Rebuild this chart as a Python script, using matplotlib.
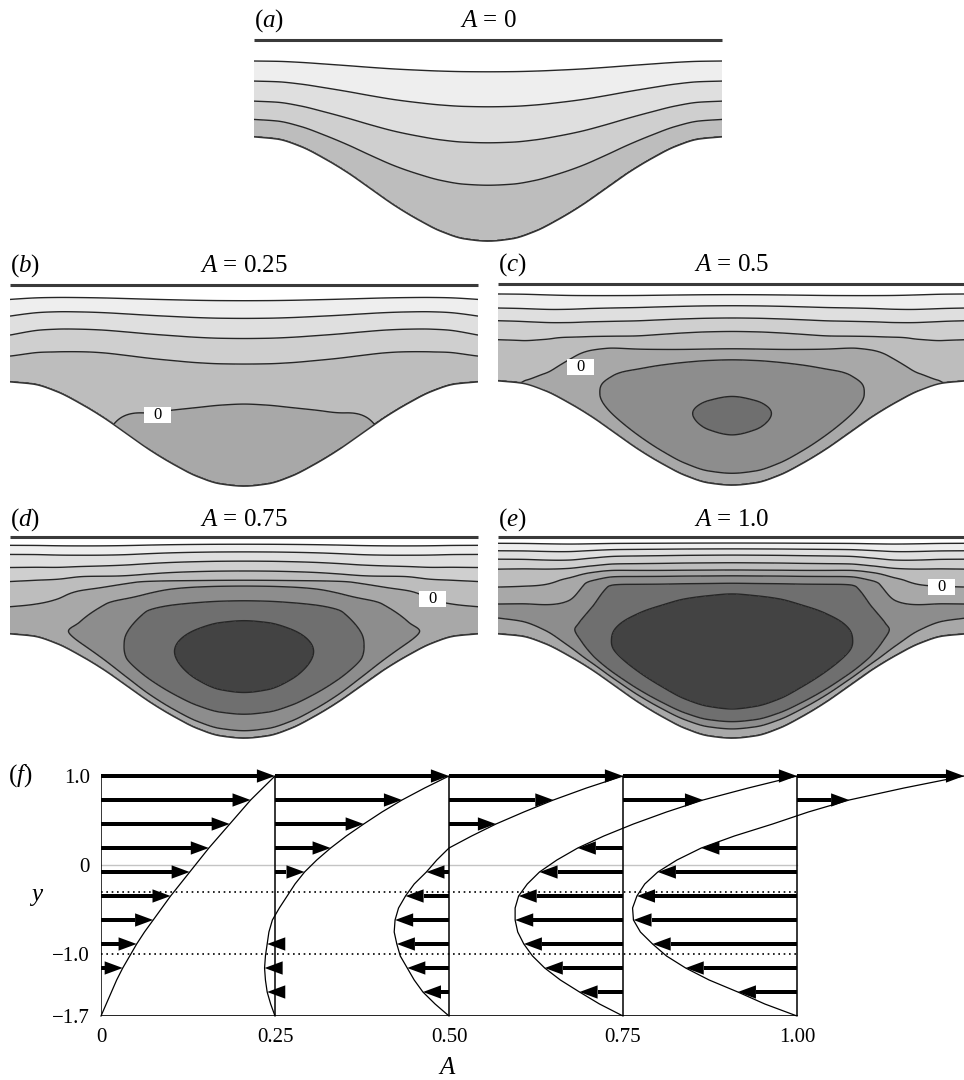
import numpy as np
import matplotlib
matplotlib.use("Agg")
import matplotlib.pyplot as plt
from matplotlib.patches import Rectangle, Polygon

plt.rcParams['font.family'] = ['Liberation Serif', 'DejaVu Serif']
plt.rcParams['mathtext.fontset'] = 'custom'
plt.rcParams['mathtext.rm'] = 'Liberation Serif'
plt.rcParams['mathtext.it'] = 'Liberation Serif:italic'

W, H = 964.0, 1080.0

# lower wall of the channel; xi = x / pi
xi_half = [0.0, 0.1, 0.2, 0.3, 0.4, 0.5, 0.6, 0.7, 0.8, 0.9, 1.0]
bottom_half = [-1.70, -1.67, -1.57, -1.41, -1.22, -1.00, -0.78, -0.59, -0.43, -0.33, -0.30]
top_wall = 1.0

# streamline heights (fraction of local depth) at the channel end and at the centre
pos_levels = [1, 2, 3, 4]

edge_eta_a = [0, 0.180, 0.369, 0.576, 0.783, 1.0]
edge_psi_a = [0, 1, 2, 3, 4, 5]
cen_eta_a = [0, 0.278, 0.489, 0.668, 0.842, 1.0]
cen_psi_a = [0, 1, 2, 3, 4, 5]
w_a = [1, 0.976, 0.905, 0.794, 0.655, 0.5, 0.345, 0.206, 0.095, 0.024, 0]
neg_a = []

edge_eta_b = [0, 0.266, 0.483, 0.679, 0.851, 1.0]
edge_psi_b = [0, 1, 2, 3, 4, 5]
cen_eta_b = [0, 0.20, 0.408, 0.607, 0.734, 0.834, 0.922, 1.0]
cen_psi_b = [0, -0.2, 0, 1, 2, 3, 4, 5]
w_b = [1, 0.988, 0.951, 0.891, 0.809, 0.707, 0.588, 0.454, 0.309, 0.156, 0]
neg_b = []

edge_eta_c = [0, 0.425, 0.621, 0.752, 0.897, 1.0]
edge_psi_c = [0, 1, 2, 3, 4, 5]
cen_eta_c = [0, 0.059, 0.25, 0.345, 0.441, 0.623, 0.678, 0.764, 0.831, 0.892, 0.947, 1.0]
cen_psi_c = [0, -1, -2, -2.12, -2, -1, 0, 1, 2, 3, 4, 5]
w_c = [1, 0.985, 0.940, 0.867, 0.769, 0.660, 0.50, 0.28, 0.09, 0.006, 0]
neg_c = [-1, -2]

edge_eta_d = [0, 0.14, 0.280, 0.540, 0.685, 0.820, 0.914, 1.0]
edge_psi_d = [0, -0.5, 0, 1, 2, 3, 4, 5]
cen_eta_d = [0, 0.037, 0.119, 0.227, 0.40, 0.584, 0.683, 0.756, 0.785, 0.831, 0.880, 0.926, 0.964, 1.0]
cen_psi_d = [0, -1, -2, -3, -3.4, -3, -2, -1, 0, 1, 2, 3, 4, 5]
w_d = [1, 0.99, 0.955, 0.89, 0.78, 0.62, 0.46, 0.30, 0.13, 0.04, 0]
neg_d = [-1, -2, -3]

edge_eta_e = [0, 0.164, 0.236, 0.308, 0.483, 0.668, 0.771, 0.858, 0.935, 1.0]
edge_psi_e = [0, -1, -1.25, -1, 0, 1, 2, 3, 4, 5]
cen_eta_e = [0, 0.046, 0.082, 0.145, 0.43, 0.717, 0.770, 0.807, 0.836, 0.872, 0.910, 0.941, 0.970, 1.0]
cen_psi_e = [0, -1, -2, -3, -3.6, -3, -2, -1, 0, 1, 2, 3, 4, 5]
w_e = [1, 0.99, 0.97, 0.93, 0.88, 0.80, 0.56, 0.26, 0.10, 0.03, 0]
neg_e = [-1, -2, -3]

# how strongly the centre profile keeps its distance from the lid (0 = plain depth fraction)
lid_keep = [0, 0, 1, 1, 1]

titles = ['0', '0.25', '0.5', '0.75', '1.0']
letters = ['a', 'b', 'c', 'd', 'e']
label0_x = [None, -1.168, -2.033, 2.533, 2.815]
label0_y = [None, -0.743, -0.113, 0.168, 0.329]

pos_colors = ['#bdbdbd', '#cfcfcf', '#dfdfdf', '#eeeeee', '#ffffff']
neg_colors = ['#a8a8a8', '#8d8d8d', '#6f6f6f', '#434343']

# panel (f): velocity profiles, eta = (y + 1.7) / 2.7
A_vals = [0.0, 0.25, 0.5, 0.75, 1.0]
eta_f = [0.0, 0.05, 0.1, 0.15, 0.2, 0.25, 0.3, 0.35, 0.4, 0.45, 0.5,
         0.55, 0.6, 0.65, 0.7, 0.75, 0.8, 0.85, 0.9, 0.95, 1.0]
u_A0 = [0, 0.03, 0.06, 0.09, 0.125, 0.165, 0.205, 0.25, 0.30, 0.35, 0.40,
        0.455, 0.51, 0.565, 0.62, 0.68, 0.74, 0.80, 0.86, 0.93, 1.0]
u_A025 = [0, -0.025, -0.045, -0.055, -0.06, -0.055, -0.045, -0.035, -0.015, 0.025, 0.07,
          0.115, 0.17, 0.24, 0.32, 0.41, 0.51, 0.615, 0.73, 0.86, 1.0]
u_A05 = [0, -0.08, -0.15, -0.20, -0.24, -0.28, -0.30, -0.315, -0.31, -0.29, -0.25,
         -0.20, -0.13, -0.07, 0.0, 0.13, 0.27, 0.43, 0.60, 0.79, 1.0]
u_A075 = [0, -0.135, -0.25, -0.36, -0.45, -0.52, -0.57, -0.605, -0.62, -0.62, -0.60,
          -0.55, -0.48, -0.38, -0.26, -0.11, 0.06, 0.25, 0.46, 0.72, 1.0]
u_A1 = [0, -0.185, -0.34, -0.505, -0.64, -0.75, -0.83, -0.90, -0.94, -0.945, -0.92,
        -0.875, -0.80, -0.69, -0.55, -0.36, -0.14, 0.065, 0.30, 0.615, 0.96]
arrows_A0 = [0.2, 0.3, 0.4, 0.5, 0.6, 0.7, 0.8, 0.9, 1.0]
arrows_A025 = [0.1, 0.2, 0.3, 0.6, 0.7, 0.8, 0.9, 1.0]
arrows_A05 = [0.1, 0.2, 0.3, 0.4, 0.5, 0.6, 0.8, 0.9, 1.0]
arrows_A075 = [0.1, 0.2, 0.3, 0.4, 0.5, 0.6, 0.7, 0.9, 1.0]
arrows_A1 = [0.1, 0.2, 0.3, 0.4, 0.5, 0.6, 0.7, 0.9, 1.0]
xtick_vals = [0, 0.25, 0.5, 0.75, 1.0]
xtick_labels = ['0', '0.25', '0.50', '0.75', '1.00']
ytick_vals = [1.0, 0, -1.0, -1.7]
ytick_labels = ['1.0', '0', '\u22121.0', '\u22121.7']


def pchip(xk, yk, x, wall=False):
    xk = np.asarray(xk, float)
    yk = np.asarray(yk, float)
    h = np.diff(xk)
    d = np.diff(yk) / h
    m = np.zeros_like(yk)
    m[0], m[-1] = (0.0 if wall else d[0]), d[-1]
    for i in range(1, len(xk) - 1):
        if d[i - 1] * d[i] > 0:
            w1 = 2 * h[i] + h[i - 1]
            w2 = h[i] + 2 * h[i - 1]
            m[i] = (w1 + w2) / (w1 / d[i - 1] + w2 / d[i])
    xc = np.clip(x, xk[0], xk[-1])
    i = np.clip(np.searchsorted(xk, xc) - 1, 0, len(h) - 1)
    t = (xc - xk[i]) / h[i]
    y = (yk[i] * (2 * t**3 - 3 * t**2 + 1) + h[i] * m[i] * (t**3 - 2 * t**2 + t)
         + yk[i + 1] * (-2 * t**3 + 3 * t**2) + h[i] * m[i + 1] * (t**3 - t**2))
    # below the wall: continue with a small slope so the zero line sits on the wall
    m0 = d[0] if wall else m[0]
    return y + m0 * np.minimum(x - xk[0], 0) + m[-1] * np.maximum(x - xk[-1], 0)


def mirror(vals):
    vals = list(vals)
    return np.array(vals[::-1][:-1] + vals)


def draw_arrow(ax, x0, y0, dx):
    hl, hw, sw = 0.026, 0.15, 0.05
    sgn = 1.0 if dx > 0 else -1.0
    tip = x0 + dx
    hb = tip - sgn * hl
    if abs(dx) > hl:
        ax.add_patch(Rectangle((min(x0, hb), y0 - sw / 2), abs(hb - x0), sw,
                               fc='k', ec='none', clip_on=False, zorder=5))
    ax.add_patch(Polygon([[tip, y0], [hb, y0 + hw / 2], [hb, y0 - hw / 2]], closed=True,
                         fc='k', ec='none', clip_on=False, zorder=5))


xi_full = np.concatenate([-np.array(xi_half[::-1][:-1]), np.array(xi_half)])
bot_full = mirror(bottom_half)

fig = plt.figure(figsize=(W / 100, H / 100), dpi=100)
scale = 74.5  # pixels per unit in the flow panels

panel_px = [(254, 40), (10, 285), (498, 284), (10, 537), (498, 537)]
panel_data = [
    (edge_eta_a, edge_psi_a, cen_eta_a, cen_psi_a, w_a, neg_a),
    (edge_eta_b, edge_psi_b, cen_eta_b, cen_psi_b, w_b, neg_b),
    (edge_eta_c, edge_psi_c, cen_eta_c, cen_psi_c, w_c, neg_c),
    (edge_eta_d, edge_psi_d, cen_eta_d, cen_psi_d, w_d, neg_d),
    (edge_eta_e, edge_psi_e, cen_eta_e, cen_psi_e, w_e, neg_e),
]

xg = np.linspace(-1, 1, 800)
yg = np.linspace(-1.8, 1.0, 450)
XI, Y = np.meshgrid(xg, yg)
B = pchip(xi_full, bot_full, XI)
D = top_wall - B
ZETA = top_wall - Y
ETA = 1 - ZETA / D
d_cen = top_wall - bottom_half[0]
ETA_LID = 1 - ZETA / d_cen - (1 - D / d_cen) * (ZETA / D) ** 2
b_line = pchip(xi_full, bot_full, xg)

for k in range(5):
    left, top = panel_px[k]
    e_eta, e_psi, c_eta, c_psi, wt, neg = panel_data[k]
    wpx, hpx = 2 * np.pi * scale, 2.75 * scale
    ax = fig.add_axes([left / W, 1 - (top + hpx) / H, wpx / W, hpx / H])
    ax.set_xlim(-np.pi, np.pi)
    ax.set_ylim(-1.75, 1.0)
    ax.axis('off')

    wgt = pchip(xi_full, mirror(wt), XI)
    eta_c = (1 - lid_keep[k]) * ETA + lid_keep[k] * ETA_LID
    psi = ((1 - wgt) * pchip(e_eta, e_psi, ETA, wall=True)
           + wgt * pchip(c_eta, c_psi, eta_c, wall=True))

    negs = sorted(neg)
    levels = [-100] + negs + [0] + pos_levels + [100]
    cols = [neg_colors[i] for i in range(len(negs), -1, -1)] + pos_colors
    ax.contourf(XI * np.pi, Y, psi, levels=levels, colors=cols, zorder=1)
    ax.contour(XI * np.pi, Y, psi, levels=negs + [0] + pos_levels,
               colors='#262626', linewidths=1.0, linestyles='solid', zorder=2)
    ax.fill_between(xg * np.pi, b_line, -2.0, color='white', zorder=3)
    ax.plot(xg * np.pi, b_line, color='#333333', lw=1.1, zorder=4)
    ax.plot([-np.pi, np.pi], [top_wall, top_wall], color='#3a3a3a', lw=2.2,
            zorder=4, clip_on=False, solid_capstyle='butt')

    if label0_x[k] is not None:
        bw, bh = 27 / scale, 16 / scale
        ax.add_patch(Rectangle((label0_x[k] - bw / 2, label0_y[k] - bh / 2), bw, bh,
                               fc='white', ec='none', zorder=5))
        ax.text(label0_x[k], label0_y[k], '0', ha='center', va='center',
                fontsize=12, zorder=6)

    cx = left + wpx / 2
    ty = top - 19 if k < 3 else top - 17
    fig.text(left / W + 0.0005, 1 - ty / H, '($%s$)' % letters[k], fontsize=18,
             ha='left', va='center')
    fig.text(cx / W, 1 - ty / H, '$A$ = %s' % titles[k], fontsize=18,
             ha='center', va='center')

# panel (f)
axf = fig.add_axes([101 / W, 1 - 1016 / H, 863 / W, 240 / H])
axf.set_xlim(0, 863 / 696)
axf.set_ylim(-1.7, 1.0)
for s in axf.spines.values():
    s.set_visible(False)
axf.set_xticks(xtick_vals)
axf.set_xticklabels(xtick_labels, fontsize=15)
axf.set_yticks(ytick_vals)
axf.set_yticklabels(ytick_labels, fontsize=15)
axf.tick_params(length=0)
axf.tick_params(axis='x', pad=9)
axf.tick_params(axis='y', pad=8)

for yy in [1.0, 0.0, -1.7]:
    axf.plot([0, 1.0], [yy, yy], color='#c4c4c4', lw=1.0, zorder=1)
for yy in [-0.3, -1.0]:
    axf.plot([0, 1.0], [yy, yy], color='k', lw=1.2, ls=(0, (1, 2.2)), zorder=2)
axf.plot([0, 1.0], [-1.7, -1.7], color='k', lw=1.2, zorder=3)

profiles = [u_A0, u_A025, u_A05, u_A075, u_A1]
arrow_sets = [arrows_A0, arrows_A025, arrows_A05, arrows_A075, arrows_A1]
yf = -1.7 + 2.7 * np.array(eta_f)
for A, u, arr in zip(A_vals, profiles, arrow_sets):
    axf.plot([A, A], [-1.7, 1.0], color='k', lw=1.1, zorder=3)
    axf.plot(A + 0.25 * np.array(u), yf, color='k', lw=0.9, zorder=4, clip_on=False)
    for e in arr:
        j = int(round(e / 0.05))
        draw_arrow(axf, A, yf[j], 0.25 * u[j])

fig.text(8 / W, 1 - 776 / H, '($f$)', fontsize=18, ha='left', va='center')
fig.text(37 / W, 1 - 897 / H, '$y$', fontsize=18, ha='center', va='center')
fig.text(447 / W, 1 - 1068 / H, '$A$', fontsize=18, ha='center', va='center')

fig.savefig('out.png', dpi=100)
